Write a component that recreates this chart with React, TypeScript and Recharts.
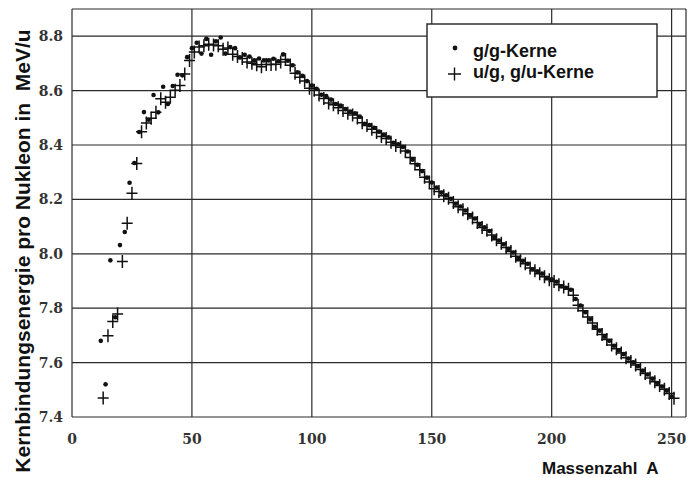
import React from 'react';
import { ScatterChart, Scatter, XAxis, YAxis, CartesianGrid } from 'recharts';

// g/g-Kerne (even-even), Massenzahl A and binding energy per nucleon (MeV)
const evenA = [
  12, 14, 16, 18, 20, 22, 24, 26, 28, 30, 32, 34, 36, 38, 40, 42, 44, 46, 48, 50,
  52, 54, 56, 58, 60, 62, 64, 66, 68, 70, 72, 74, 76, 78, 80, 82, 84, 86, 88, 90,
  92, 94, 96, 98, 100, 102, 104, 106, 108, 110, 112, 114, 116, 118, 120, 122, 124, 126, 128, 130,
  132, 134, 136, 138, 140, 142, 144, 146, 148, 150, 152, 154, 156, 158, 160, 162, 164, 166, 168, 170,
  172, 174, 176, 178, 180, 182, 184, 186, 188, 190, 192, 194, 196, 198, 200, 202, 204, 206, 208, 210,
  212, 214, 216, 218, 220, 222, 224, 226, 228, 230, 232, 234, 236, 238, 240, 242, 244, 246, 248, 250,
];
const evenB = [
  7.680, 7.520, 7.976, 7.767, 8.032, 8.080, 8.261, 8.334, 8.448, 8.521, 8.493, 8.584, 8.520, 8.614, 8.551, 8.617, 8.658, 8.656, 8.723, 8.756,
  8.776, 8.736, 8.790, 8.732, 8.781, 8.795, 8.736, 8.760, 8.756, 8.722, 8.732, 8.725, 8.711, 8.718, 8.711, 8.711, 8.717, 8.708, 8.733, 8.710,
  8.693, 8.667, 8.654, 8.635, 8.619, 8.607, 8.585, 8.580, 8.567, 8.551, 8.545, 8.532, 8.523, 8.517, 8.505, 8.478, 8.473, 8.463, 8.449, 8.438,
  8.428, 8.408, 8.403, 8.393, 8.376, 8.346, 8.327, 8.304, 8.280, 8.262, 8.244, 8.225, 8.215, 8.202, 8.184, 8.174, 8.159, 8.142, 8.130, 8.107,
  8.097, 8.084, 8.061, 8.049, 8.035, 8.018, 8.005, 7.983, 7.974, 7.963, 7.943, 7.936, 7.927, 7.912, 7.906, 7.897, 7.880, 7.875, 7.868, 7.834,
  7.810, 7.785, 7.759, 7.732, 7.717, 7.695, 7.680, 7.662, 7.645, 7.631, 7.615, 7.601, 7.587, 7.570, 7.556, 7.541, 7.525, 7.512, 7.497, 7.475,
];

// u/g, g/u-Kerne (odd A)
const oddA = [
  13, 15, 17, 19, 21, 23, 25, 27, 29, 31, 33, 35, 37, 39, 41, 43, 45, 47, 49, 51,
  53, 55, 57, 59, 61, 63, 65, 67, 69, 71, 73, 75, 77, 79, 81, 83, 85, 87, 89, 91,
  93, 95, 97, 99, 101, 103, 105, 107, 109, 111, 113, 115, 117, 119, 121, 123, 125, 127, 129, 131,
  133, 135, 137, 139, 141, 143, 145, 147, 149, 151, 153, 155, 157, 159, 161, 163, 165, 167, 169, 171,
  173, 175, 177, 179, 181, 183, 185, 187, 189, 191, 193, 195, 197, 199, 201, 203, 205, 207, 209, 211,
  213, 215, 217, 219, 221, 223, 225, 227, 229, 231, 233, 235, 237, 239, 241, 243, 245, 247, 249, 251,
];
const oddB = [
  7.470, 7.699, 7.751, 7.779, 7.972, 8.112, 8.223, 8.332, 8.449, 8.481, 8.498, 8.520, 8.570, 8.557, 8.576, 8.601, 8.619, 8.661, 8.711, 8.742,
  8.760, 8.765, 8.770, 8.768, 8.765, 8.752, 8.757, 8.734, 8.725, 8.718, 8.705, 8.701, 8.695, 8.688, 8.696, 8.696, 8.697, 8.705, 8.714, 8.693,
  8.664, 8.649, 8.635, 8.609, 8.601, 8.584, 8.571, 8.554, 8.548, 8.537, 8.527, 8.517, 8.510, 8.499, 8.482, 8.472, 8.458, 8.446, 8.431, 8.424,
  8.410, 8.398, 8.392, 8.378, 8.354, 8.331, 8.309, 8.281, 8.264, 8.239, 8.229, 8.213, 8.204, 8.189, 8.173, 8.162, 8.147, 8.132, 8.115, 8.097,
  8.087, 8.069, 8.052, 8.039, 8.023, 8.008, 7.991, 7.974, 7.963, 7.948, 7.938, 7.927, 7.916, 7.905, 7.898, 7.886, 7.878, 7.870, 7.848, 7.811,
  7.791, 7.768, 7.746, 7.723, 7.703, 7.685, 7.665, 7.651, 7.635, 7.618, 7.604, 7.591, 7.575, 7.560, 7.543, 7.530, 7.516, 7.502, 7.486, 7.469,
];

const xTicks = [0, 50, 100, 150, 200, 250, 256];
const yTicks = [7.4, 7.6, 7.8, 8.0, 8.2, 8.4, 8.6, 8.8, 8.9];

const evenData = evenA.map((a, i) => ({ a, b: evenB[i] }));
const oddData = oddA.map((a, i) => ({ a, b: oddB[i] }));

const INK = '#111';
const tickFont = { fontFamily: '"DejaVu Serif", serif', fontWeight: 700, fontSize: 14, fill: '#333' };
const labelFont = { fontFamily: '"Liberation Sans", Arial, sans-serif', fontWeight: 700, fill: INK };

const Dot = (props: any) => <circle cx={props.cx} cy={props.cy} r={2.3} fill={INK} />;

const Plus = (props: any) => {
  const { cx, cy } = props;
  return (
    <path
      d={`M${cx - 5.5},${cy}H${cx + 5.5}M${cx},${cy - 6.5}V${cy + 6.5}`}
      stroke={INK}
      strokeWidth={1.5}
      fill="none"
    />
  );
};

const YTick = (props: any) => {
  const { y, payload } = props;
  if (payload.value > 8.85) return <g />;
  return (
    <text x={63} y={y} dy={5} textAnchor="end" {...tickFont}>
      {payload.value.toFixed(1)}
    </text>
  );
};

const XTick = (props: any) => {
  const { x, payload } = props;
  if (payload.value > 250) return <g />;
  return (
    <text x={x} y={444} textAnchor="middle" {...tickFont}>
      {payload.value}
    </text>
  );
};

export default function App() {
  return (
    <div style={{ position: 'relative', width: 690, height: 478, background: '#fff' }}>
      <style>{'body{margin:0;}'}</style>
      <ScatterChart width={690} height={478} margin={{ top: 9, right: 4, bottom: 0, left: 0 }}>
        <CartesianGrid stroke="#2a2a2a" strokeWidth={1.2} />
        <XAxis
          type="number"
          dataKey="a"
          domain={[0, 256]}
          ticks={xTicks}
          height={61}
          axisLine={false}
          tickLine={false}
          tick={<XTick />}
          interval={0}
        />
        <YAxis
          type="number"
          dataKey="b"
          domain={[7.4, 8.9]}
          ticks={yTicks}
          width={72}
          axisLine={false}
          tickLine={false}
          tick={<YTick />}
          interval={0}
        />
        <Scatter data={oddData} shape={<Plus />} isAnimationActive={false} />
        <Scatter data={evenData} shape={<Dot />} isAnimationActive={false} />
      </ScatterChart>

      <svg width={690} height={478} style={{ position: 'absolute', left: 0, top: 0, pointerEvents: 'none' }}>
        <text
          transform="translate(30,251) rotate(-90)"
          textAnchor="middle"
          fontSize={21}
          style={{ whiteSpace: 'pre' }}
          {...labelFont}
        >
          {'Kernbindungsenergie pro Nukleon in  MeV/u'}
        </text>
        <text x={542} y={474} fontSize={17} style={{ whiteSpace: 'pre' }} {...labelFont}>
          {'Massenzahl  A'}
        </text>

        <rect x={427} y={24} width={230} height={73} fill="#fff" stroke="#222" strokeWidth={1.4} />
        <circle cx={455} cy={48} r={2.4} fill={INK} />
        <path d="M448,74H461M454.5,67.5V80.5" stroke={INK} strokeWidth={1.4} />
        <text x={473} y={57} fontSize={18} {...labelFont}>g/g-Kerne</text>
        <text x={473} y={77.5} fontSize={18} {...labelFont}>u/g, g/u-Kerne</text>
      </svg>
    </div>
  );
}
